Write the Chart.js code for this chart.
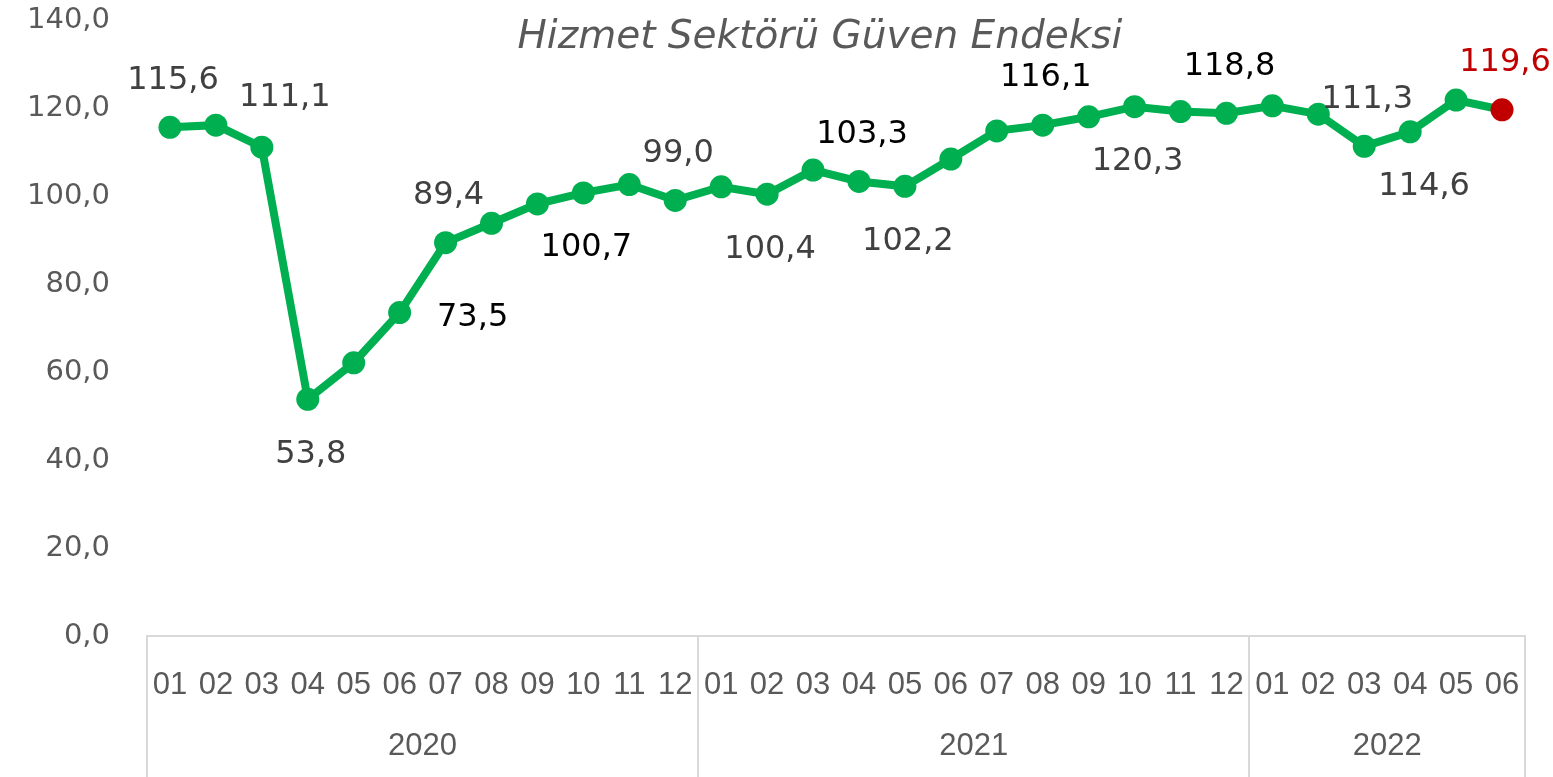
<!DOCTYPE html>
<html>
<head>
<meta charset="utf-8">
<script src="https://cdn.jsdelivr.net/npm/chart.js@4.4.1/dist/chart.umd.min.js"></script>
<style>
  html, body { margin: 0; padding: 0; background: #fff; }
  #wrap { width: 1553px; height: 777px; }
</style>
</head>
<body>
<div id="wrap"><canvas id="chart"></canvas></div>
<script>
const chartTitle = 'Hizmet Sektörü Güven Endeksi';
const months = ['01','02','03','04','05','06','07','08','09','10','11','12',
                '01','02','03','04','05','06','07','08','09','10','11','12',
                '01','02','03','04','05','06'];
const years = ['2020', '2021', '2022'];
const monthsPerYear = [12, 12, 6];
const values = [115.6, 116.1, 111.1, 53.8, 62.1, 73.5, 89.4, 93.8, 98.2, 100.7, 102.6, 99.0,
                102.1, 100.4, 105.9, 103.3, 102.2, 108.4, 114.8, 116.1, 118.0, 120.3, 119.2, 118.8,
                120.5, 118.6, 111.3, 114.6, 121.8, 119.6];

// which points carry a value label, and where it sits
const labelSide = {
  0: 'up', 2: 'upright', 3: 'down', 5: 'right', 6: 'up', 9: 'down', 11: 'up', 13: 'down',
  15: 'up', 16: 'down', 19: 'up', 21: 'down', 23: 'up', 26: 'up', 27: 'downright', 29: 'up'
};
const darkLabels = [5, 9, 15, 19, 23];

const green = '#00B050';
const red = '#C00000';
const grey = '#595959';
const font = "'DejaVu Sans', Verdana, sans-serif";

const fmt = v => v.toFixed(1).replace('.', ',');

const valueLabels = {
  id: 'valueLabels',
  afterDatasetsDraw(chart) {
    const ctx = chart.ctx;
    const pts = chart.getDatasetMeta(0).data;
    ctx.save();
    ctx.font = '32px ' + font;
    ctx.textAlign = 'center';
    ctx.textBaseline = 'middle';
    Object.keys(labelSide).forEach(k => {
      const i = +k;
      const p = pts[i];
      let dx = 0, dy = 0;
      switch (labelSide[k]) {
        case 'up': dx = 3; dy = -47; break;
        case 'down': dx = 3; dy = 55; break;
        case 'right': dx = 73; dy = 5; break;
        case 'upright': dx = 23; dy = -49; break;
        case 'downright': dx = 14; dy = 55; break;
      }
      if (i === values.length - 1) ctx.fillStyle = red;
      else if (darkLabels.includes(i)) ctx.fillStyle = '#000000';
      else ctx.fillStyle = '#404040';
      ctx.fillText(fmt(values[i]), p.x + dx, p.y + dy);
    });
    ctx.restore();
  }
};

const yearAxis = {
  id: 'yearAxis',
  afterDraw(chart) {
    const ctx = chart.ctx;
    const x = chart.scales.x;
    const area = chart.chartArea;
    const step = x.getPixelForValue(1) - x.getPixelForValue(0);
    ctx.save();
    // group separators
    ctx.strokeStyle = '#D9D9D9';
    ctx.lineWidth = 2;
    let start = 0;
    const edges = [area.left];
    monthsPerYear.forEach(n => {
      start += n;
      edges.push(x.getPixelForValue(start - 1) + step / 2);
    });
    edges.forEach(px => {
      ctx.beginPath();
      ctx.moveTo(Math.round(px), area.bottom);
      ctx.lineTo(Math.round(px), chart.height);
      ctx.stroke();
    });
    // year names
    ctx.fillStyle = grey;
    ctx.font = "31px 'Liberation Sans', Arial, sans-serif";
    ctx.textAlign = 'center';
    ctx.textBaseline = 'middle';
    years.forEach((y, i) => {
      ctx.fillText(y, (edges[i] + edges[i + 1]) / 2, 746);
    });
    // title
    ctx.font = 'italic 39px ' + font;
    ctx.fillStyle = grey;
    ctx.fillText(chartTitle, 820, 38);
    ctx.restore();
  }
};

new Chart(document.getElementById('chart'), {
  type: 'line',
  data: {
    labels: months,
    datasets: [{
      data: values,
      borderColor: green,
      borderWidth: 8,
      pointRadius: 11.5,
      pointHoverRadius: 11.5,
      pointBackgroundColor: values.map((v, i) => i === values.length - 1 ? red : green),
      pointBorderColor: values.map((v, i) => i === values.length - 1 ? red : green),
      pointBorderWidth: 0,
      tension: 0,
      clip: false
    }]
  },
  options: {
    responsive: true,
    maintainAspectRatio: false,
    animation: false,
    layout: { autoPadding: false, padding: { left: 0, right: 28, top: 20, bottom: 0 } },
    plugins: {
      legend: { display: false },
      tooltip: { enabled: false }
    },
    scales: {
      x: {
        offset: true,
        grid: { display: false, drawTicks: false },
        border: { display: true, color: '#D9D9D9', width: 2 },
        ticks: {
          color: grey,
          font: { family: "'Liberation Sans', Arial, sans-serif", size: 31 },
          padding: 31,
          maxRotation: 0,
          autoSkip: false
        },
        afterFit(scale) { scale.height = 141; }
      },
      y: {
        min: 0,
        max: 140,
        grid: { display: false, drawTicks: false },
        border: { display: false },
        ticks: {
          stepSize: 20,
          color: grey,
          font: { family: font, size: 29 },
          padding: 37,
          callback: v => fmt(v)
        },
        afterFit(scale) {
          scale.width = 147;
          scale.paddingTop = 0;
          scale.paddingBottom = 0;
        }
      }
    }
  },
  plugins: [valueLabels, yearAxis]
});
</script>
</body>
</html>
